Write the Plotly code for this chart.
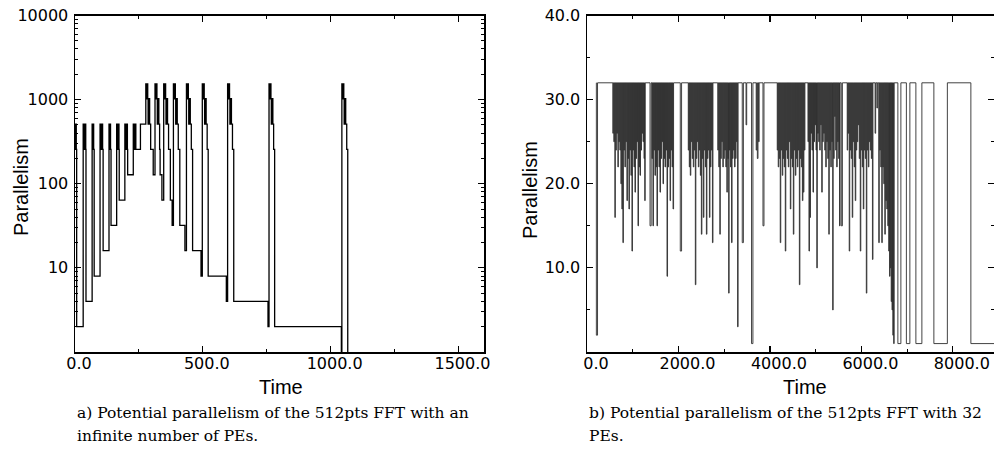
import plotly.graph_objects as go

W, H = 994, 462

# ---------------- (a) potential parallelism, infinite number of PEs ----------------
a_time = [
    0, 1.5, 3, 5,            6.5,      # bar, dip to 2
    32, 34, 36, 38, 40, 42,  43,       # bar, dip to 4
    67, 69, 71, 73,          75,       # bar, dip to 8
    98, 100, 102, 104, 106, 108, 110,  # bar, dip to 16
    133, 135, 137, 139,      141,      # bar, dip to 32
    163, 165, 167, 169, 171, 172, 173, # bar, dip to 64
    195, 197, 199, 201, 203, 205, 206, # bar, dip to 128
    228, 230, 232, 234, 236, 238, 256, # bar, 256 plateau, 512 plateau
    277, 278.5, 280, 281.5, 283, 284.5, 286, 287.5, 289, 290.5, 292, 296, 306,
    313, 314.5, 316, 317.5, 319, 320.5, 322, 323.5, 325, 326.5, 328, 331, 333, 340,
    347, 348.5, 350, 351.5, 353, 354.5, 356, 357.5, 359, 360.5, 362, 366, 373, 380,
    385, 386.5, 388, 389.5, 391, 392.5, 394, 395.5, 397, 398.5, 400, 404, 410, 430,
    436, 437.5, 439, 440.5, 442, 443.5, 445, 446.5, 448, 449.5, 451, 455, 460, 493,
    498, 499.5, 501, 502.5, 504, 505.5, 507, 508.5, 510, 511.5, 513, 517, 521, 592,
    597, 598.5, 600, 601.5, 603, 604.5, 606, 607.5, 609, 610.5, 612, 616, 621, 755,
    759, 760.5, 762, 763.5, 765, 766.5, 768, 769.5, 771, 772.5, 774, 777, 781, 1042,
    1044, 1045.5, 1047, 1048.5, 1050, 1051.5, 1053, 1054.5, 1056, 1057.5, 1059, 1063, 1067,
]
a_par = [
    512, 256, 512, 256,      2,
    512, 256, 512, 256, 512, 256, 4,
    512, 256, 512, 256,      8,
    512, 256, 512, 256, 512, 256, 16,
    512, 256, 512, 256,      32,
    512, 256, 512, 256, 512, 256, 64,
    512, 256, 512, 256, 512, 256, 128,
    512, 256, 512, 256, 512, 256, 512,
    1536, 1024, 1536, 1024, 1536, 1024, 512, 1024, 512, 1024, 512, 256, 128,
    1536, 1024, 1536, 1024, 1536, 1024, 512, 1024, 512, 1024, 512, 256, 128, 64,
    1536, 1024, 1536, 1024, 1536, 1024, 512, 1024, 512, 1024, 512, 256, 64, 32,
    1536, 1024, 1536, 1024, 1536, 1024, 512, 1024, 512, 1024, 512, 256, 32, 16,
    1536, 1024, 1536, 1024, 1536, 1024, 512, 1024, 512, 1024, 512, 256, 16, 8,
    1536, 1024, 1536, 1024, 1536, 1024, 512, 1024, 512, 1024, 512, 256, 8, 4,
    1536, 1024, 1536, 1024, 1536, 1024, 512, 1024, 512, 1024, 512, 256, 4, 2,
    1536, 1024, 1536, 1024, 1536, 1024, 512, 1024, 512, 1024, 512, 256, 2, 1,
    1536, 1024, 1536, 1024, 1536, 1024, 512, 1024, 512, 1024, 512, 256, 1,
]

# ---------------- (b) potential parallelism with 32 PEs ----------------
PE_MAX = 32
DIP_LEN = 11
b_start_time = 200

# short drops below the 32-PE ceiling (time, parallelism reached)
b_dip_time = [
    565, 587, 609, 631, 653, 675, 697, 719, 741, 763, 785, 807, 829, 851, 873, 895, 917,
    939, 961, 983, 1005, 1027, 1049, 1071, 1093, 1115, 1137, 1159, 1181, 1203, 1225, 1247, 1262,
    1420, 1442, 1464, 1486, 1508, 1530, 1552, 1574, 1596, 1618, 1640, 1662, 1684, 1706,
    1728, 1750, 1772, 1794, 1816, 1838, 1860, 1882,
    2215, 2237, 2259, 2281, 2303, 2325, 2347, 2369, 2391, 2413, 2435, 2457, 2479, 2501,
    2523, 2545, 2567, 2589, 2611, 2633, 2655, 2677, 2699, 2721, 2743,
    2860, 2882, 2904, 2926, 2948, 2970, 2992, 3014, 3036, 3058, 3080, 3097, 3117, 3139,
    3161, 3183, 3205, 3227, 3249, 3271, 3293,
    4160, 4182, 4204, 4226, 4248, 4270, 4292, 4314, 4336, 4358, 4380, 4402, 4424, 4446,
    4468, 4490, 4512, 4534, 4556, 4578, 4600, 4622, 4644, 4666, 4688, 4710, 4732, 4754,
    4832, 4854, 4876, 4898, 4920, 4942, 4964, 4986, 5008, 5025, 5045, 5067, 5089, 5111,
    5133, 5155, 5177, 5199, 5221, 5243, 5265, 5287, 5309, 5331, 5353, 5372, 5394, 5416,
    5438, 5460, 5482, 5504, 5522,
    5690, 5712, 5734, 5756, 5778, 5800, 5822, 5844, 5866, 5888, 5910, 5932, 5954, 5976,
    5998, 6020, 6042, 6064, 6086, 6108, 6130, 6152, 6174, 6196, 6218, 6242,
    6380, 6402, 6424, 6446, 6468, 6490, 6512, 6534, 6556, 6578, 6598, 6616, 6634, 6652,
    6670, 6688, 6706,
]
b_dip_par = [
    26, 25, 16, 24, 26, 22, 25, 24, 20, 17, 13, 24, 22, 25, 18, 23, 17,
    24, 21, 12, 24, 22, 19, 23, 25, 15, 22, 21, 24, 26, 25, 23, 18,
    23, 15, 24, 21, 22, 15, 24, 22, 19, 23, 25, 20, 23, 22,
    24, 9, 22, 23, 18, 24, 22, 17,
    24, 22, 21, 25, 23, 22, 24, 8, 23, 25, 22, 24, 21, 14,
    23, 16, 24, 22, 14, 23, 24, 16, 22, 24, 13,
    24, 22, 14, 23, 25, 22, 23, 24, 22, 19, 23, 7, 24, 22,
    13, 23, 24, 22, 23, 25, 3,
    24, 22, 23, 13, 24, 21, 23, 22, 12, 24, 23, 22, 25, 17,
    23, 22, 14, 24, 21, 23, 22, 24, 8, 23, 22, 18, 19, 24,
    25, 12, 16, 26, 24, 19, 25, 27, 24, 10, 26, 25, 24, 27,
    19, 25, 26, 24, 22, 25, 23, 14, 24, 22, 25, 5, 23, 28,
    24, 22, 25, 23, 15,
    24, 26, 12, 24, 23, 16, 25, 22, 18, 24, 25, 27, 23, 12,
    24, 22, 17, 24, 23, 7, 24, 22, 25, 24, 23, 11,
    13, 24, 22, 13, 22, 20, 14, 18, 17, 15, 12, 9, 10, 6,
    5, 2, 1,
]

# isolated, longer drops (time, parallelism reached, duration)
b_wide_time = [205, 1378, 2040, 3395, 3478, 3598, 3700, 3725, 3752, 3848, 5560, 6300, 6340]
b_wide_par = [2, 15, 12, 13, 27, 1, 24, 23, 25, 15, 15, 26, 29]
b_wide_len = [25, 25, 28, 25, 14, 30, 12, 14, 12, 22, 25, 12, 10]

# final phase: alternating full use / single PE
b_tail_time = [6798, 6864, 6984, 7060, 7192, 7323, 7585, 7880, 8394, 9000]
b_tail_par = [1, 32, 1, 32, 1, 32, 1, 32, 1, 1]

# tick labels
a_xticks = [0, 500, 1000, 1500]
a_xtext = ["0.0", "500.0", "1000.0", "1500.0"]
a_yticks = [10, 100, 1000, 10000]
a_ytext = ["10", "100", "1000", "10000"]
b_xticks = [0, 2000, 4000, 6000, 8000]
b_xtext = ["0.0", "2000.0", "4000.0", "6000.0", "8000.0"]
b_yticks = [10, 20, 30, 40]
b_ytext = ["10.0", "20.0", "30.0", "40.0"]

caption_a = ["a) Potential parallelism of the 512pts FFT with an", "infinite number of PEs."]
caption_b = ["b) Potential parallelism of the 512pts FFT with 32", "PEs."]

# ---------------- build step series for (b) ----------------
events = [(t, v, DIP_LEN) for t, v in zip(b_dip_time, b_dip_par)]
events += list(zip(b_wide_time, b_wide_par, b_wide_len))
events.sort()
b_x = [b_start_time]
b_y = [PE_MAX]
for t, v, d in events:
    b_x += [t, t + d]
    b_y += [v, PE_MAX]
b_x += b_tail_time
b_y += b_tail_par

# ---------------- figure ----------------
def fx(p):
    return p / W

def fy(p):
    return 1 - p / H

fig = go.Figure()
fig.add_trace(go.Scatter(x=a_time, y=a_par, mode="lines", line=dict(color="black", width=1.3, shape="hv"),
                         xaxis="x", yaxis="y", showlegend=False, hoverinfo="skip"))
fig.add_trace(go.Scatter(x=b_x, y=b_y, mode="lines", line=dict(color="#2e2e2e", width=0.9, shape="hv"),
                         xaxis="x2", yaxis="y2", showlegend=False, hoverinfo="skip"))

tickfont = dict(family="DejaVu Sans", size=16, color="black")
common = dict(showline=True, linecolor="black", linewidth=1.5, mirror="ticks", ticks="inside",
              ticklen=6, tickwidth=1.2, tickcolor="black", showgrid=False, zeroline=False,
              tickfont=tickfont, automargin=False, fixedrange=True)

log_minor = [m * 10 ** k for k in range(4) for m in range(2, 10)]

def minor(vals):
    return dict(tickmode="array", tickvals=vals, ticks="inside", ticklen=3, tickwidth=1,
                tickcolor="black")

fig.update_layout(
    width=W, height=H, margin=dict(l=0, r=0, t=0, b=0),
    paper_bgcolor="white", plot_bgcolor="white",
    xaxis=dict(domain=[fx(75), fx(484)], range=[0, 1600], anchor="y", tickmode="array",
               tickvals=a_xticks, ticktext=a_xtext, ticklabelshift=4, ticklabelstandoff=-4,
               minor=minor([250, 750, 1250]), **common),
    yaxis=dict(domain=[fy(352), fy(15.5)], type="log", range=[0, 4], anchor="x", tickmode="array",
               tickvals=a_yticks, ticktext=a_ytext, ticklabelstandoff=2,
               minor=minor(log_minor), **common),
    xaxis2=dict(domain=[fx(587), 1.0], range=[0, 8900], anchor="y2", tickmode="array",
                tickvals=b_xticks, ticktext=b_xtext, ticklabelshift=9, ticklabelstandoff=-4,
                minor=minor([1000, 3000, 5000, 7000]), **common),
    yaxis2=dict(domain=[fy(352), fy(15.5)], range=[0, 40], anchor="x2", tickmode="array",
                tickvals=b_yticks, ticktext=b_ytext, ticklabelstandoff=2,
                minor=minor([5, 15, 25, 35]), **common),
)

title_font = dict(family="Liberation Sans, Arial", size=20, color="black")
cap_font = dict(family="DejaVu Serif", size=15.5, color="black")
ann = [
    dict(text="Time", x=fx(281), y=fy(387), font=title_font),
    dict(text="Time", x=fx(805), y=fy(387), font=title_font),
    dict(text="Parallelism", x=fx(21), y=fy(187), textangle=-90, font=title_font),
    dict(text="Parallelism", x=fx(530), y=fy(190), textangle=-90, font=title_font),
]
for i, line in enumerate(caption_a):
    ann.append(dict(text=line, x=fx(75), y=fy(413 + 23 * i), xanchor="left", font=cap_font))
for i, line in enumerate(caption_b):
    ann.append(dict(text=line, x=fx(587), y=fy(413 + 23 * i), xanchor="left", font=cap_font))
for a in ann:
    a.setdefault("xanchor", "center")
    a.update(xref="paper", yref="paper", yanchor="middle", showarrow=False)
fig.update_layout(annotations=ann)

fig.write_html("out.html", config={"displayModeBar": False, "staticPlot": True},
               post_script="document.body.style.margin='0px';")
